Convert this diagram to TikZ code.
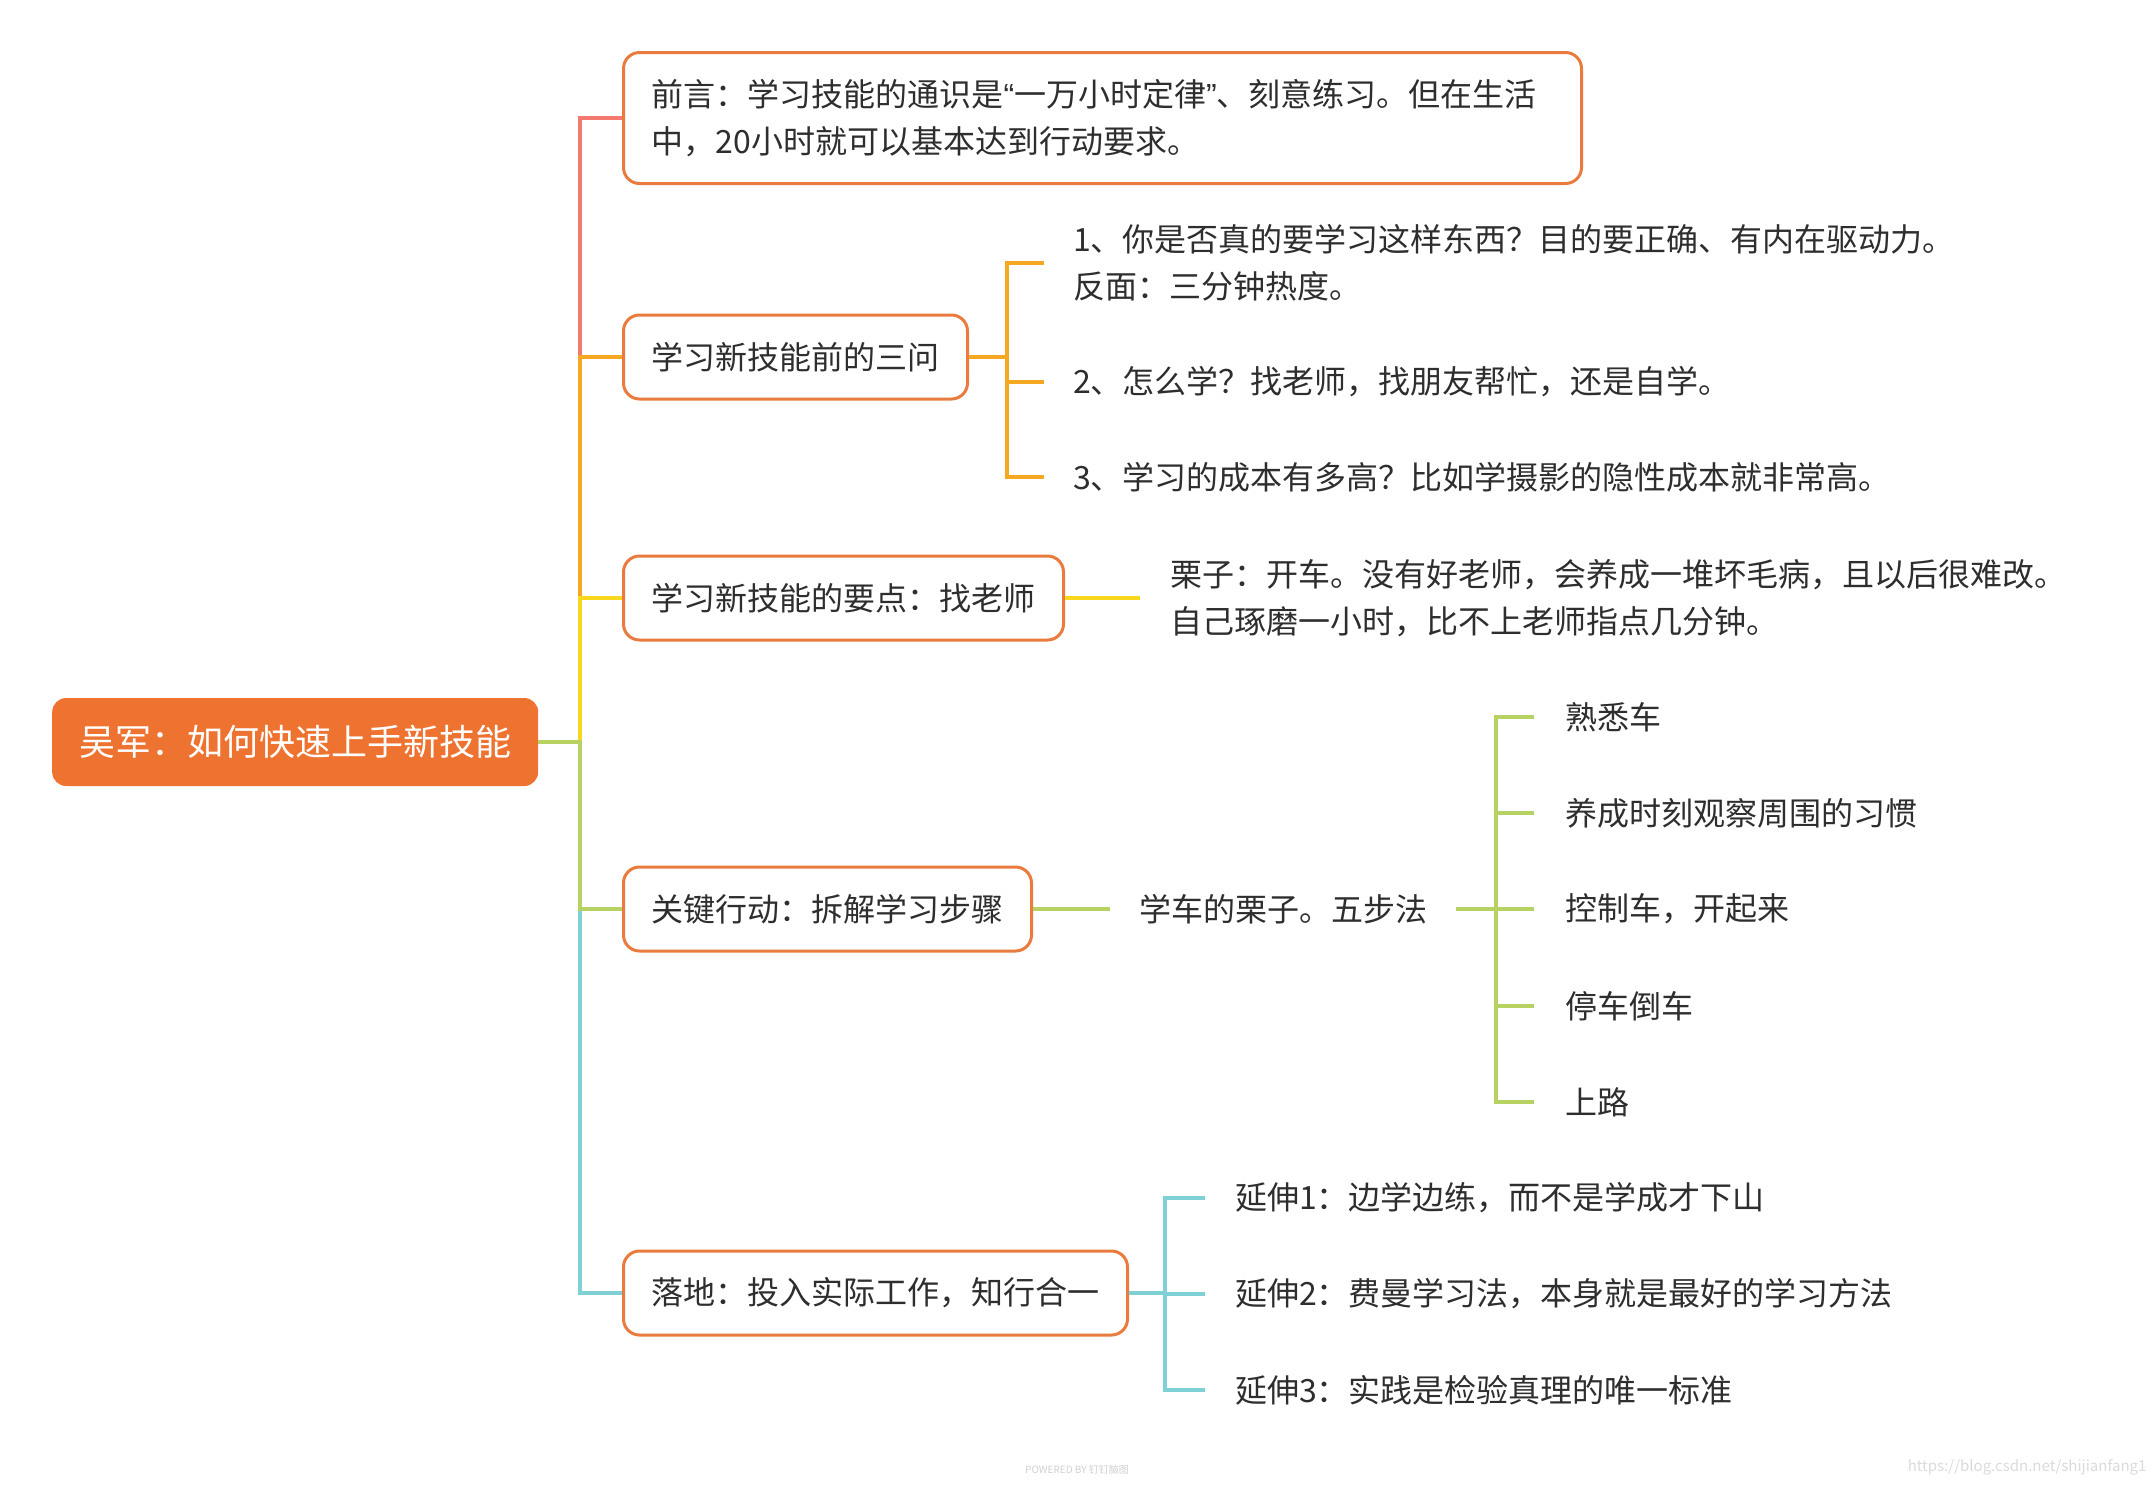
\documentclass[tikz,border=0pt]{standalone}
\usepackage{fontspec}
\setmainfont{Noto Sans CJK SC}
\newfontfamily\latq{Liberation Sans}
\definecolor{rootc}{HTML}{EE7330}
\definecolor{boxc}{HTML}{E97B3E}
\definecolor{redl}{HTML}{F47A6F}
\definecolor{orl}{HTML}{F7A823}
\definecolor{yel}{HTML}{F9D71C}
\definecolor{grl}{HTML}{B8D163}
\definecolor{cyl}{HTML}{80D1D6}
\definecolor{txt}{HTML}{2E2E2E}
\begin{document}
\begin{tikzpicture}[x=1pt,y=-1pt,
  every node/.style={text=txt, font=\fontsize{32}{47}\selectfont},
  br/.style={draw=boxc, line width=3pt, rounded corners=16pt, fill=white, inner xsep=28pt, inner ysep=0pt, anchor=west, minimum height=84pt},
  leaf/.style={anchor=west, inner ysep=0pt, align=left},
  ln/.style={line width=4pt},
]
\useasboundingbox (0,0) rectangle (2154,1484);
\fill[white] (0,0) rectangle (2154,1484);

% root
\node[fill=rootc, text=white, rounded corners=14pt, inner xsep=27pt, inner ysep=0pt, minimum height=88pt, anchor=west, font=\fontsize{36}{44}\selectfont] (root) at (52,742) {吴军：如何快速上手新技能};

% main branches
\node[br, minimum height=131pt, text width=902pt, align=left] (b1) at (622,118) {前言：学习技能的通识是{\latq “}一万小时定律{\latq ”}、刻意练习。但在生活\\中，20小时就可以基本达到行动要求。};
\node[br] (b2) at (622,357) {学习新技能前的三问};
\node[br] (b3) at (622,598) {学习新技能的要点：找老师};
\node[br] (b4) at (622,909) {关键行动：拆解学习步骤};
\node[br] (b5) at (622,1293) {落地：投入实际工作，知行合一};

% spine
\coordinate (J) at (580,742);
\draw[ln,redl] (J) |- (b1.west);
\draw[ln,orl] (J) |- (b2.west);
\draw[ln,yel] (J) |- (b3.west);
\draw[ln,cyl] (J) |- (b5.west);
\draw[ln,grl] (J) |- (b4.west);
\draw[ln,grl] (root.east) -- ([xshift=2pt]J);

% branch 2 children
\node[leaf, inner xsep=29pt] (c1) at (1044,263) {1、你是否真的要学习这样东西？目的要正确、有内在驱动力。\\反面：三分钟热度。};
\node[leaf, inner xsep=29pt] (c2) at (1044,382) {2、怎么学？找老师，找朋友帮忙，还是自学。};
\node[leaf, inner xsep=29pt] (c3) at (1044,477) {3、学习的成本有多高？比如学摄影的隐性成本就非常高。};
\coordinate (j2) at (1007,357);
\draw[ln,orl] (b2.east) -- (b2.east -| j2);
\draw[ln,orl] (j2) |- (c1.west);
\draw[ln,orl] (j2) |- (c2.west);
\draw[ln,orl] (j2) |- (c3.west);

% branch 3 child
\node[leaf, inner xsep=30pt] (t3) at (1140,598) {栗子：开车。没有好老师，会养成一堆坏毛病，且以后很难改。\\自己琢磨一小时，比不上老师指点几分钟。};
\draw[ln,yel] (b3.east) -- (t3.west);

% branch 4 children
\node[leaf, inner xsep=29pt] (s4) at (1110,909) {学车的栗子。五步法};
\draw[ln,grl] (b4.east) -- (s4.west);
\node[leaf, inner xsep=31pt] (k1) at (1534,717) {熟悉车};
\node[leaf, inner xsep=31pt] (k2) at (1534,813) {养成时刻观察周围的习惯};
\node[leaf, inner xsep=31pt] (k3) at (1534,909) {控制车，开起来};
\node[leaf, inner xsep=31pt] (k4) at (1534,1006) {停车倒车};
\node[leaf, inner xsep=31pt] (k5) at (1534,1102) {上路};
\coordinate (j4) at (1496,909);
\draw[ln,grl] (s4.east) -- (s4.east -| j4);
\foreach \k in {k1,k2,k3,k4,k5} \draw[ln,grl] (j4) |- (\k.west);

% branch 5 children
\node[leaf, inner xsep=30pt] (e1) at (1205,1198) {延伸1：边学边练，而不是学成才下山};
\node[leaf, inner xsep=30pt] (e2) at (1205,1294) {延伸2：费曼学习法，本身就是最好的学习方法};
\node[leaf, inner xsep=30pt] (e3) at (1205,1390) {延伸3：实践是检验真理的唯一标准};
\coordinate (j5) at (1165,1293);
\draw[ln,cyl] (b5.east) -- (b5.east -| j5);
\foreach \k in {e1,e2,e3} \draw[ln,cyl] (j5) |- (\k.west);

% watermarks
\node[text=black!18, font=\fontsize{10}{12}\selectfont] (pw) at (1077,1470) {POWERED BY 钉钉脑图};
\node[anchor=east, text=black!14, font=\fontsize{15}{18}\selectfont] (url) at (2150,1467) {https://blog.csdn.net/shijianfang1};
\end{tikzpicture}
\end{document}
